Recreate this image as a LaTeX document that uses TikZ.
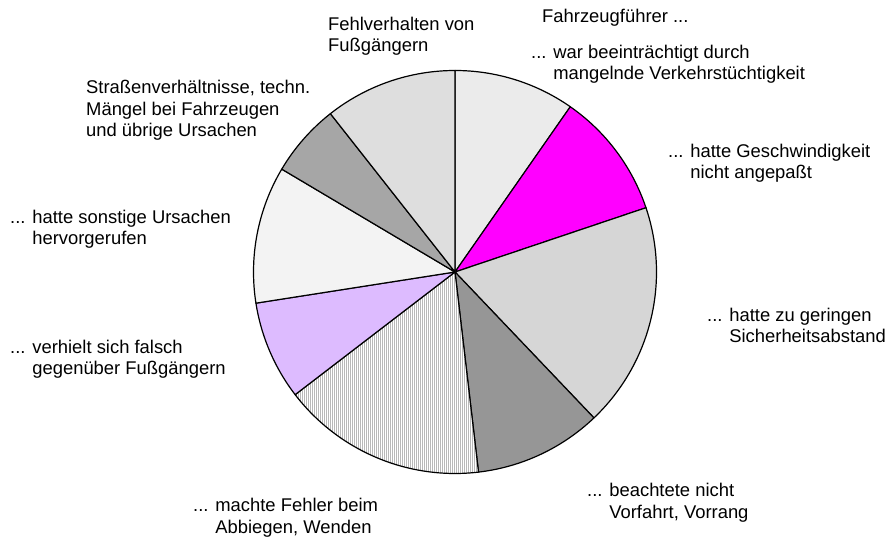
\documentclass[tikz,border=0pt]{standalone}
\usepackage{fontspec}
\setmainfont{Liberation Sans}
\usetikzlibrary{patterns.meta}
\definecolor{sA}{HTML}{EBEBEB}
\definecolor{sB}{HTML}{FF00FF}
\definecolor{sC}{HTML}{D6D6D6}
\definecolor{sD}{HTML}{969696}
\definecolor{sE}{HTML}{B8B8B8}
\definecolor{sF}{HTML}{DDBBFF}
\definecolor{sG}{HTML}{F3F3F3}
\definecolor{sH}{HTML}{A6A6A6}
\definecolor{sI}{HTML}{DEDEDE}
\begin{document}
\begin{tikzpicture}[x=1pt,y=1pt,
  slice/.style={draw=black,line width=1.2pt,line join=round},
  lbl/.style={anchor=base west,inner sep=0pt,align=left,font=\fontsize{18.4}{21.5}\selectfont}]
\useasboundingbox (0,0) rectangle (888,538);
\coordinate (c) at (455,266);
\def\R{201.5}
% slices clockwise from top
\filldraw[slice,fill=sA] (c) -- ++(90:\R) arc[start angle=90,end angle=55.1,radius=\R] -- cycle;
\filldraw[slice,fill=sB] (c) -- ++(55.1:\R) arc[start angle=55.1,end angle=18.6,radius=\R] -- cycle;
\filldraw[slice,fill=sC] (c) -- ++(18.6:\R) arc[start angle=18.6,end angle=-46.4,radius=\R] -- cycle;
\filldraw[slice,fill=sD] (c) -- ++(-46.4:\R) arc[start angle=-46.4,end angle=-83.3,radius=\R] -- cycle;
\fill[white] (c) -- ++(-83.3:\R) arc[start angle=-83.3,end angle=-142.5,radius=\R] -- cycle;
\fill[pattern={Lines[angle=90,distance=2pt,line width=1pt]},pattern color=sE] (c) -- ++(-83.3:\R) arc[start angle=-83.3,end angle=-142.5,radius=\R] -- cycle;
\draw[slice] (c) -- ++(-83.3:\R) arc[start angle=-83.3,end angle=-142.5,radius=\R] -- cycle;
\filldraw[slice,fill=sF] (c) -- ++(-142.5:\R) arc[start angle=-142.5,end angle=-171.1,radius=\R] -- cycle;
\filldraw[slice,fill=sG] (c) -- ++(-171.1:\R) arc[start angle=-171.1,end angle=-210.7,radius=\R] -- cycle;
\filldraw[slice,fill=sH] (c) -- ++(149.3:\R) arc[start angle=149.3,end angle=128.2,radius=\R] -- cycle;
\filldraw[slice,fill=sI] (c) -- ++(128.2:\R) arc[start angle=128.2,end angle=90,radius=\R] -- cycle;
% labels (anchor = baseline of last line)
\node[lbl] (fg) at (328,486) {Fehlverhalten von\\Fußgängern};
\node[lbl] (fz) at (542,515) {Fahrzeugführer ...};
\node[lbl] (vt) at (531,458) {... war beeinträchtigt durch\\\phantom{... }mangelnde Verkehrstüchtigkeit};
\node[lbl] (gs) at (668,359) {... hatte Geschwindigkeit\\\phantom{... }nicht angepaßt};
\node[lbl] (sa) at (707,195) {... hatte zu geringen\\\phantom{... }Sicherheitsabstand};
\node[lbl] (vf) at (587,20) {... beachtete nicht\\\phantom{... }Vorfahrt, Vorrang};
\node[lbl] (ab) at (193,5) {... machte Fehler beim\\\phantom{... }Abbiegen, Wenden};
\node[lbl] (fs) at (10,163) {... verhielt sich falsch\\\phantom{... }gegenüber Fußgängern};
\node[lbl] (so) at (10,293) {... hatte sonstige Ursachen\\\phantom{... }hervorgerufen};
\node[lbl] (st) at (86,401) {Straßenverhältnisse, techn.\\Mängel bei Fahrzeugen\\und übrige Ursachen};
\end{tikzpicture}
\end{document}
